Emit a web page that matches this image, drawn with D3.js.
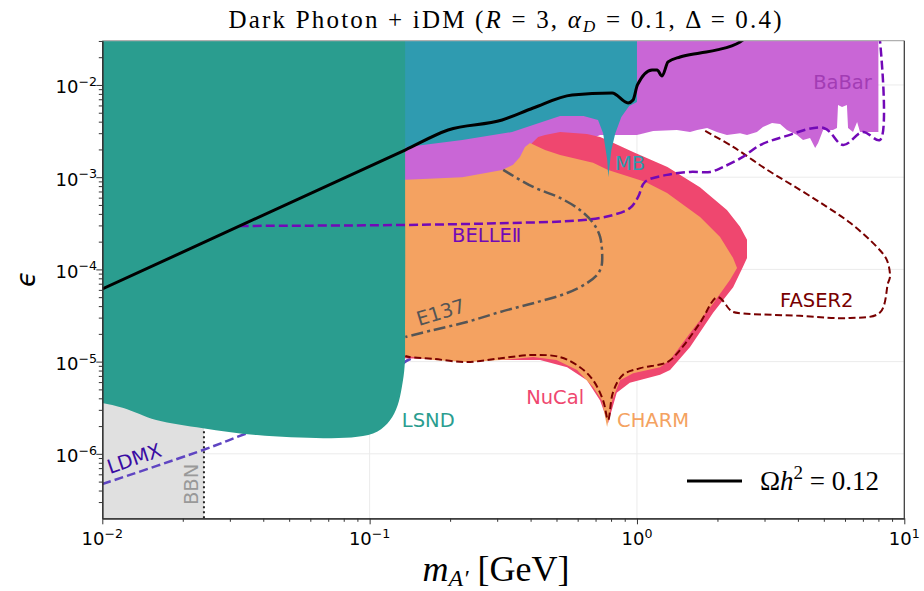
<!DOCTYPE html>
<html>
<head>
<meta charset="utf-8">
<script src="https://cdn.jsdelivr.net/npm/d3@7"></script>
<style>
	html, body { margin: 0; padding: 0; background: #fff; }
	svg text { font-family: "DejaVu Sans", sans-serif; }
	.serif { font-family: "Liberation Serif", "DejaVu Serif", serif; }
</style>
</head>
<body>
<svg id="chart" width="924" height="591"></svg>
<script>
// axes ranges (mass in GeV, kinetic mixing epsilon)
var massDomain = [1e-2, 1e1];
var epsDomain = [2e-7, 3.02e-2];
var xMajor = [1e-2, 1e-1, 1e0, 1e1];
var yMajor = [1e-6, 1e-5, 1e-4, 1e-3, 1e-2];
var bbnMass = 0.024;

// excluded regions, [mass, eps] outlines
var lsnd = [[0.009, 5e-2], [0.009, 3.7e-6], [0.01, 3.56e-6], [0.012, 3.14e-6], [0.0159, 2.33e-6], [0.0238, 1.9e-6],
	[0.0379, 1.6e-6], [0.067, 1.48e-6], [0.09, 1.53e-6], [0.107, 1.75e-6], [0.119, 2.3e-6], [0.127, 3.3e-6],
	[0.132, 5.3e-6], [0.1352, 9.0e-6], [0.1357, 2e-5], [0.1357, 5e-2]];
var mb = [[0.025, 3.02e-2], [1.0, 3.02e-2], [1.0, 6.55e-3], [0.935, 5.9e-3], [0.874, 4.5e-3],
	[0.83, 3.0e-3], [0.802, 1.97e-3], [0.781, 1.0e-3], [0.774, 1.54e-3], [0.747, 3.0e-3],
	[0.715, 4.17e-3], [0.631, 4.61e-3], [0.516, 4.61e-3], [0.453, 4.07e-3], [0.341, 3.09e-3],
	[0.222, 2.53e-3], [0.138, 2.13e-3], [0.103, 1.35e-3], [0.077, 1.1e-3], [0.05, 9.8e-4], [0.025, 8.6e-4]];
var babar = [[0.12, 3.02e-2], [8.0, 3.02e-2], [8.0, 3.09e-3], [6.83, 3.09e-3], [6.66, 3.97e-3],
	[6.43, 3.09e-3], [6.16, 3.42e-3], [6.1, 6.07e-3], [5.85, 5.77e-3], [5.65, 6.07e-3], [5.6, 3.42e-3],
	[5.41, 3.25e-3], [4.97, 3.25e-3], [4.76, 2.35e-3], [4.64, 2.07e-3], [4.44, 2.66e-3], [4.18, 2.53e-3],
	[3.97, 2.87e-3], [3.64, 3.25e-3], [3.43, 3.78e-3], [3.2, 3.87e-3], [2.96, 3.5e-3], [2.81, 3.09e-3],
	[2.58, 2.87e-3], [2.43, 3.0e-3], [2.17, 2.87e-3], [1.99, 3.09e-3], [1.83, 3.42e-3], [1.68, 3.25e-3],
	[1.58, 3.09e-3], [1.41, 3.25e-3], [1.15, 3.17e-3], [1.0, 2.87e-3], [0.728, 2.87e-3],
	[0.55, 2.0e-3], [0.45, 6e-4], [0.12, 6e-4]];
var nucal = [[0.13, 1.09e-5], [0.13, 5.7e-4], [0.31, 8.2e-4], [0.365, 1.36e-3], [0.405, 2.35e-3],
	[0.427, 2.73e-3], [0.453, 2.87e-3], [0.516, 3.09e-3], [0.65, 2.94e-3], [0.728, 2.73e-3],
	[0.773, 2.53e-3], [0.967, 1.88e-3], [1.3, 1.29e-3], [1.72, 7.8e-4], [2.17, 4.4e-4], [2.43, 2.9e-4],
	[2.58, 2.1e-4], [2.58, 1.33e-4], [2.49, 1.06e-4], [2.29, 6.4e-5], [1.93, 3.4e-5], [1.58, 1.44e-5],
	[1.33, 8.1e-6], [1.22, 7.2e-6], [0.94, 5.9e-6], [0.84, 4.6e-6], [0.78, 2.16e-6], [0.728, 3.8e-6],
	[0.65, 6.3e-6], [0.548, 8.7e-6], [0.434, 1.04e-5], [0.31, 1.04e-5]];
var charm = [[0.13, 1.18e-5], [0.13, 9.3e-4], [0.222, 1.0e-3], [0.313, 1.2e-3], [0.344, 1.36e-3],
	[0.365, 1.66e-3], [0.381, 2.13e-3], [0.398, 2.35e-3], [0.453, 1.97e-3], [0.516, 1.74e-3],
	[0.685, 1.43e-3], [0.78, 1.2e-3], [1.072, 8.9e-4], [1.296, 6.74e-4], [1.722, 3.7e-4], [2.046, 2.25e-4],
	[2.288, 1.33e-4], [2.368, 1.035e-4], [2.23, 7.7e-5], [1.93, 4.3e-5], [1.58, 2.04e-5], [1.33, 1.04e-5],
	[1.22, 8.7e-6], [0.967, 7.5e-6], [0.865, 6.3e-6], [0.807, 3.8e-6], [0.773, 1.95e-6], [0.74, 3.8e-6],
	[0.685, 5.3e-6], [0.597, 8.1e-6], [0.50, 1.04e-5], [0.409, 1.12e-5], [0.31, 1.04e-5],
	[0.231, 9.9e-6], [0.173, 1.04e-5]];

// projected / other limits
var faser2 = [[1.8, 3.17e-3], [2.29, 2.13e-3], [3.07, 1.2e-3], [4.07, 7.3e-4], [5.14, 4.75e-4],
	[6.27, 3.2e-4], [7.9, 1.75e-4], [8.6, 1.27e-4], [8.84, 8.3e-5], [8.69, 7.1e-5], [8.11, 3.4e-5],
	[6.27, 2.97e-5], [4.07, 3.14e-5], [2.29, 3.45e-5], [2.23, 3.63e-5], [2.0, 5.0e-5], [1.72, 2.62e-5],
	[1.45, 1.34e-5], [1.3, 9.9e-6], [1.03, 8.5e-6], [0.887, 7.2e-6], [0.814, 4.68e-6], [0.78, 2.33e-6],
	[0.747, 3.8e-6], [0.685, 6.3e-6], [0.612, 8.7e-6], [0.516, 1.12e-5], [0.409, 1.18e-5],
	[0.31, 1.09e-5], [0.231, 9.9e-6], [0.173, 1.07e-5], [0.141, 1.12e-5], [0.136, 1.15e-5]];
var belle2 = [[0.0327, 2.96e-4], [0.13, 3.03e-4], [0.3075, 3.17e-4], [0.631, 3.43e-4], [0.814, 3.89e-4],
	[0.942, 4.63e-4], [1.01, 6.1e-4], [1.072, 8.9e-4], [1.296, 1.06e-3], [1.58, 1.14e-3], [1.88, 1.14e-3],
	[2.1, 1.29e-3], [2.49, 1.66e-3], [2.89, 2.23e-3], [3.52, 2.73e-3], [5.0, 3.42e-3], [5.9, 2.23e-3],
	[7.0, 3.09e-3], [8.11, 2.53e-3], [8.11, 3.02e-2]];
var ldmx = [[0.01, 4.7e-7], [0.0238, 1.1e-6], [0.0347, 1.67e-6], [0.06, 3.0e-6], [0.1, 6.0e-6],
	[0.125, 8.0e-6], [0.136, 1.0e-5], [0.145, 1.1e-5]];
var e137 = [[0.316, 1.2e-3], [0.409, 7.83e-4], [0.516, 5.95e-4], [0.612, 4.41e-4], [0.685, 3.19e-4],
	[0.728, 2.25e-4], [0.74, 1.17e-4], [0.728, 9.85e-5], [0.709, 8.7e-5], [0.65, 7.1e-5], [0.548, 5.55e-5],
	[0.409, 4.3e-5], [0.3075, 3.45e-5], [0.231, 2.69e-5], [0.173, 2.2e-5], [0.136, 1.85e-5]];
var relic = [[0.01, 6.13e-5], [0.1357, 1.97e-3], [0.1965, 3.25e-3], [0.313, 4.17e-3], [0.409, 5.63e-3],
	[0.572, 7.79e-3], [0.807, 8.19e-3], [0.926, 6.38e-3], [0.967, 6.88e-3], [1.004, 1.0e-2],
	[1.139, 1.454e-2], [1.189, 1.454e-2], [1.241, 1.252e-2], [1.307, 1.776e-2], [1.449, 2.01e-2],
	[1.722, 2.22e-2], [1.994, 2.4e-2], [2.43, 2.93e-2], [2.58, 3.3e-2]];

// text labels anchored in data space
var labelNames = ["LSND", "NuCal", "CHARM", "FASER2", "MB", "BaBar", "BELLE\u2161", "E137", "LDMX", "BBN"];
var labelMass = [0.132, 0.385, 0.8425, 3.43, 0.828, 4.56, 0.2034, 0.153, 0.01068, 0.0228];
var labelEps = [1.95e-6, 3.47e-6, 1.95e-6, 3.9e-5, 1.2e-3, 9.05e-3, 1.98e-4, 2.43e-5, 6.04e-7, 2.78e-7];

(function(){
	var colors = {
		LSND: "#2a9d8f", MB: "#2f9bb0", BaBar: "#c966d6", NuCal: "#ef476f", CHARM: "#f4a261",
		FASER2: "#780000", BELLE: "#7209b7", LDMX: "#5f45c2", E137: "#555555", BBN: "#e0e0e0"
	};
	var labelColors = ["#2a9d8f", "#ef476f", "#f4a261", "#780000", "#2f9bb0", "#a23cb4", "#7209b7", "#555555", "#3a0ca3", "#999999"];
	var labelRotate = [0, 0, 0, 0, 0, 0, 0, -17, -19, -90];

	var L = 102.3, R = 904.3, T = 40.7, B = 518.3;
	var svg = d3.select("#chart");
	var x = d3.scaleLog().domain(massDomain).range([L, R]);
	var y = d3.scaleLog().domain(epsDomain).range([B, T]);

	svg.append("defs").append("clipPath").attr("id", "plotClip")
		.append("rect").attr("x", L).attr("y", T).attr("width", R - L).attr("height", B - T);
	var plot = svg.append("g").attr("clip-path", "url(#plotClip)");

	// grid
	plot.selectAll("line.gx").data(xMajor).enter().append("line")
		.attr("x1", d => x(d)).attr("x2", d => x(d)).attr("y1", T).attr("y2", B)
		.attr("stroke", "#ebebeb").attr("stroke-width", 1);
	plot.selectAll("line.gy").data(yMajor).enter().append("line")
		.attr("y1", d => y(d)).attr("y2", d => y(d)).attr("x1", L).attr("x2", R)
		.attr("stroke", "#ebebeb").attr("stroke-width", 1);

	var poly = d3.line().x(d => x(d[0])).y(d => y(d[1]));
	var smooth = d3.line().x(d => x(d[0])).y(d => y(d[1])).curve(d3.curveCatmullRom.alpha(0.5));

	function region(pts, fill, gen){
		plot.append("path").attr("d", (gen || poly)(pts) + "Z").attr("fill", fill);
	}
	function curve(pts, stroke, width, dash, gen){
		plot.append("path").attr("d", (gen || smooth)(pts)).attr("fill", "none")
			.attr("stroke", stroke).attr("stroke-width", width)
			.attr("stroke-dasharray", dash).attr("stroke-linejoin", "round");
	}

	// BBN shaded band and its edge
	plot.append("rect").attr("x", x(massDomain[0])).attr("y", T)
		.attr("width", x(bbnMass) - x(massDomain[0])).attr("height", B - T).attr("fill", colors.BBN);
	plot.append("line").attr("x1", x(bbnMass)).attr("x2", x(bbnMass)).attr("y1", B).attr("y2", y(1.9e-6))
		.attr("stroke", "#222").attr("stroke-width", 2).attr("stroke-dasharray", "2,3");

	curve(ldmx, colors.LDMX, 2.5, "9,4");
	region(babar, colors.BaBar);
	region(nucal, colors.NuCal);
	region(charm, colors.CHARM);
	curve(faser2, colors.FASER2, 2, "7,3.5");
	curve(e137, colors.E137, 2.5, "12,4,3,4");
	region(mb, colors.MB);
	region(lsnd, colors.LSND, smooth);
	curve(belle2, colors.BELLE, 2.5, "9,4");
	curve(relic, "#000", 3, null, d3.line().x(d => x(d[0])).y(d => y(d[1])).curve(d3.curveMonotoneX));

	// region labels
	labelNames.forEach(function(name, i){
		var px = x(labelMass[i]), py = y(labelEps[i]);
		plot.append("text").attr("x", px).attr("y", py)
			.attr("transform", labelRotate[i] ? "rotate(" + labelRotate[i] + "," + px + "," + py + ")" : null)
			.attr("font-size", 19.5).attr("fill", labelColors[i]).text(name);
	});

	// spines
	svg.append("line").attr("x1", L).attr("x2", R).attr("y1", T).attr("y2", T).attr("stroke", "#b0b0b0").attr("stroke-width", 1.2);
	svg.append("line").attr("x1", R).attr("x2", R).attr("y1", T).attr("y2", B).attr("stroke", "#333").attr("stroke-width", 1.2);

	// ticks via d3 axes
	var xMinor = [], yMinor = [];
	for (var k = -7; k <= 1; k++){
		for (var j = 2; j <= 9; j++){
			var v = j * Math.pow(10, k);
			if (v > massDomain[0] && v < massDomain[1]) xMinor.push(v);
			if (v > epsDomain[0] && v < epsDomain[1]) yMinor.push(v);
		}
	}
	function styleAxis(g){
		g.selectAll("path.domain").attr("stroke", "#333").attr("stroke-width", 1.2);
		g.selectAll(".tick line").attr("stroke", "#333").attr("stroke-width", 1);
	}
	svg.append("g").attr("transform", "translate(0," + B + ")")
		.call(d3.axisBottom(x).tickValues(xMinor).tickSize(3.5).tickSizeOuter(0).tickFormat(""))
		.call(styleAxis);
	svg.append("g").attr("transform", "translate(0," + B + ")")
		.call(d3.axisBottom(x).tickValues(xMajor).tickSize(6).tickSizeOuter(0).tickFormat(""))
		.call(styleAxis);
	svg.append("g").attr("transform", "translate(" + L + ",0)")
		.call(d3.axisLeft(y).tickValues(yMinor).tickSize(3.5).tickSizeOuter(0).tickFormat(""))
		.call(styleAxis);
	svg.append("g").attr("transform", "translate(" + L + ",0)")
		.call(d3.axisLeft(y).tickValues(yMajor).tickSize(6).tickSizeOuter(0).tickFormat(""))
		.call(styleAxis);

	function powLabel(sel){
		sel.each(function(d){
			var t = d3.select(this);
			t.append("tspan").text("10");
			t.append("tspan").attr("dy", -7.5).attr("font-size", 12.6)
				.text(("" + Math.round(Math.log10(d))).replace("-", "\u2212"));
		});
	}
	svg.selectAll("text.xt").data(xMajor).enter().append("text")
		.attr("x", d => x(d)).attr("y", 545).attr("text-anchor", "middle").attr("font-size", 18)
		.call(powLabel);
	svg.selectAll("text.yt").data(yMajor).enter().append("text")
		.attr("x", 97).attr("y", d => y(d) + 8.5).attr("text-anchor", "end").attr("font-size", 18)
		.call(powLabel);

	// title
	var title = svg.append("text").attr("class", "serif").attr("x", 505).attr("y", 28)
		.attr("text-anchor", "middle").attr("font-size", 25).attr("textLength", 553).attr("lengthAdjust", "spacing");
	title.append("tspan").text("Dark Photon + iDM (");
	title.append("tspan").attr("font-style", "italic").text("R");
	title.append("tspan").text(" = 3, ");
	title.append("tspan").attr("font-style", "italic").text("\u03b1");
	title.append("tspan").attr("font-style", "italic").attr("font-size", 17).attr("dy", 4).text("D");
	title.append("tspan").attr("dy", -4).text(" = 0.1, \u0394 = 0.4)");

	// axis labels
	var xl = svg.append("text").attr("class", "serif").attr("x", 496).attr("y", 581)
		.attr("text-anchor", "middle").attr("font-size", 36);
	xl.append("tspan").attr("font-style", "italic").text("m");
	xl.append("tspan").attr("font-style", "italic").attr("font-size", 24).attr("dy", 5).text("A\u2032");
	xl.append("tspan").attr("dy", -5).text(" [GeV]");

	svg.append("text").attr("transform", "translate(35,279) rotate(-90)")
		.attr("text-anchor", "middle").attr("font-family", "DejaVu Serif").attr("font-style", "italic")
		.attr("font-size", 26).text("\u03f5");

	// legend
	svg.append("line").attr("x1", 687).attr("x2", 742).attr("y1", 481).attr("y2", 481)
		.attr("stroke", "#000").attr("stroke-width", 3);
	var lg = svg.append("text").attr("class", "serif").attr("x", 760).attr("y", 490).attr("font-size", 27);
	lg.append("tspan").text("\u03a9");
	lg.append("tspan").attr("font-style", "italic").text("h");
	lg.append("tspan").attr("font-size", 19).attr("dy", -11).text("2");
	lg.append("tspan").attr("dy", 11).text(" = 0.12");
})();
</script>
</body>
</html>
